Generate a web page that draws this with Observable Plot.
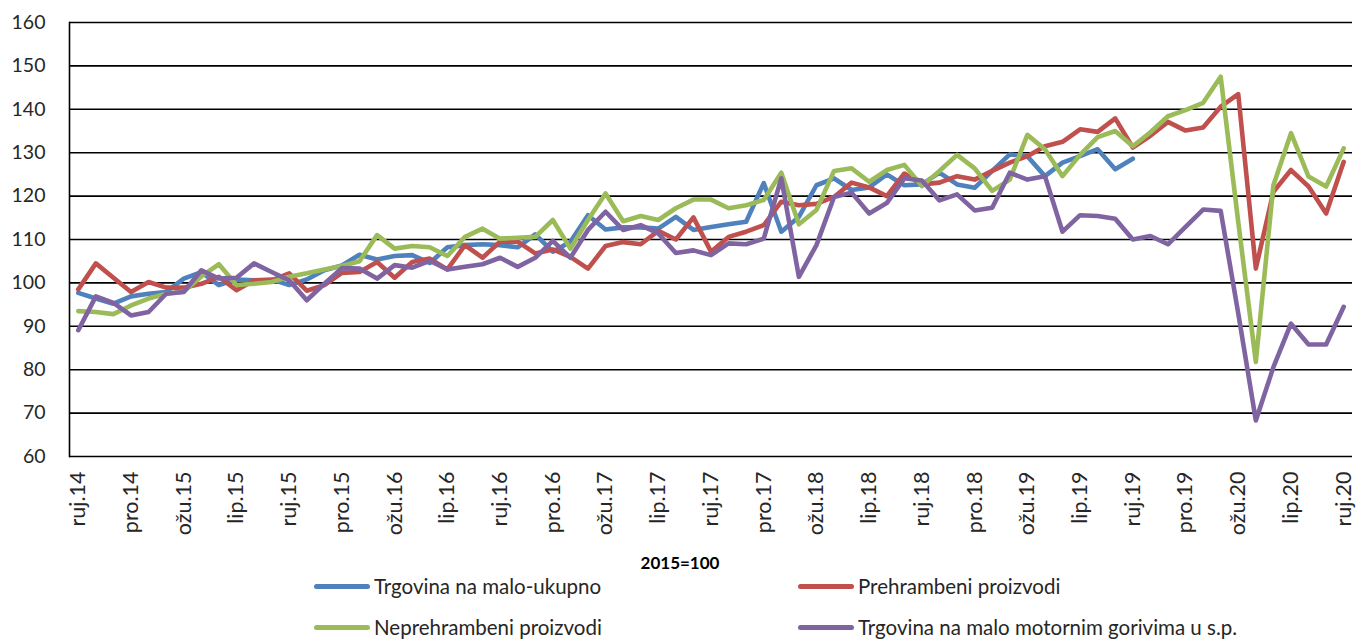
<!DOCTYPE html>
<html>
<head>
<meta charset="utf-8">
<script src="https://cdn.jsdelivr.net/npm/d3@7"></script>
<script src="https://cdn.jsdelivr.net/npm/@observablehq/plot@0.6"></script>
<style>
  html, body { margin: 0; padding: 0; background: #fff; }
  body { width: 1360px; height: 639px; overflow: hidden; font-family: Lato, "Open Sans", sans-serif; }
  #below { position: relative; width: 1360px; height: 91px; color: #222; }
  #title { position: absolute; left: 0; width: 1360px; top: 5px; text-align: center; font-weight: bold; font-size: 17px; line-height: 20px; color: #000; }
  .sw { position: absolute; width: 56px; height: 5px; border-radius: 3px; }
  .lt { position: absolute; font-size: 20.5px; line-height: 20px; color: #262626; white-space: nowrap; }
</style>
</head>
<body>
<div id="chart"></div>
<div id="below">
  <div id="title">2015=100</div>
</div>
<script>
// Month categories (Croatian abbreviations)
const months = [
  "ruj.14","lis.14","stu.14","pro.14",
  "sij.15","velj.15","ožu.15","tra.15","svi.15","lip.15","srp.15","kol.15","ruj.15","lis.15","stu.15","pro.15",
  "sij.16","velj.16","ožu.16","tra.16","svi.16","lip.16","srp.16","kol.16","ruj.16","lis.16","stu.16","pro.16",
  "sij.17","velj.17","ožu.17","tra.17","svi.17","lip.17","srp.17","kol.17","ruj.17","lis.17","stu.17","pro.17",
  "sij.18","velj.18","ožu.18","tra.18","svi.18","lip.18","srp.18","kol.18","ruj.18","lis.18","stu.18","pro.18",
  "sij.19","velj.19","ožu.19","tra.19","svi.19","lip.19","srp.19","kol.19","ruj.19","lis.19","stu.19","pro.19",
  "sij.20","velj.20","ožu.20","tra.20","svi.20","lip.20","srp.20","kol.20","ruj.20"
];
const tickLabels = ["ruj.14","pro.14","ožu.15","lip.15","ruj.15","pro.15","ožu.16","lip.16","ruj.16","pro.16",
  "ožu.17","lip.17","ruj.17","pro.17","ožu.18","lip.18","ruj.18","pro.18","ožu.19","lip.19","ruj.19","pro.19",
  "ožu.20","lip.20","ruj.20"];
const yTicks = [60,70,80,90,100,110,120,130,140,150,160];

const seriesNames = ["Trgovina na malo-ukupno","Prehrambeni proizvodi","Neprehrambeni proizvodi","Trgovina na malo motornim gorivima u s.p."];
const seriesColors = ["#4F81BD","#C0504D","#9BBB59","#8064A2"];

const ukupno = [97.7,96.4,95.2,96.9,97.5,97.9,101,102.5,99.5,100.8,
  100.6,100.8,99.5,100.8,102.9,104,106.5,105.4,106.2,106.4,
  104.6,108.2,108.7,108.9,108.7,108.2,111.2,107.2,109.5,115.6,
  112.3,112.8,112.8,112.5,115.2,112.2,112.9,113.5,114.1,123,
  111.8,115.2,122.5,124.1,121.4,122,125,122.5,122.7,125.4,
  122.7,121.9,125.8,129.6,129.2,124.6,127.7,129.2,130.8,126.2,128.6];
const prehrambeni = [98.5,104.5,101.2,97.9,100.2,98.9,98.9,99.8,101.4,98.3,
  100.6,100.6,102.2,98.2,99.5,102.3,102.5,104.8,101.2,104.8,
  105.6,103.1,108.7,105.8,109.5,109.5,106.8,107.7,106,103.3,
  108.5,109.4,108.9,112,110,115.1,107.2,110.6,111.8,113.3,
  118.7,117.9,118.2,119.8,123.1,122,120,125.2,122.7,123.1,
  124.6,123.8,125.8,127.7,129.2,131.5,132.5,135.4,134.8,137.9,
  131.2,133.9,137.1,135.1,135.8,140.6,143.5,103.3,121,126,
  122.2,116,127.9];
const neprehrambeni = [93.5,93.3,92.8,94.8,96.4,97.5,98,101.5,104.3,99.5,
  99.8,100.2,101.4,102.2,103.1,103.9,105,111,107.9,108.5,
  108.2,106.2,110.6,112.5,110.2,110.4,110.6,114.5,107.9,114.5,
  120.6,114.2,115.4,114.5,117.2,119.2,119.2,117.2,117.9,119.1,
  125.4,113.5,116.8,125.8,126.4,123.3,126,127.2,122.3,125.8,
  129.5,126.4,121.2,123.8,134.1,130.8,124.6,129.5,133.6,135,
  131.5,134.7,138.4,139.8,141.5,147.5,114,81.8,122.5,134.5,
  124.5,122.2,131];
const goriva = [89.1,96.9,95.4,92.5,93.3,97.5,97.9,102.9,101,101.2,
  104.5,102.5,100.6,96,99.8,103.4,103.3,101,104.1,103.5,
  105.1,103.1,103.7,104.3,105.8,103.7,105.8,109.7,105.8,112.2,
  116.4,112.2,113.3,111.4,106.9,107.5,106.4,109.1,108.9,110.2,
  124.1,101.4,108.7,119.8,120.8,116,118.4,124.1,123.6,119,
  120.4,116.7,117.3,125.4,123.8,124.6,111.8,115.6,115.4,114.8,
  110,110.8,108.9,112.9,116.9,116.6,93,68.3,80.6,90.6,
  85.8,85.8,94.5];

const allSeries = [ukupno, prehrambeni, neprehrambeni, goriva];
const rows = [];
allSeries.forEach((arr, s) => arr.forEach((v, i) => rows.push({series: seriesNames[s], month: months[i], value: v})));

const chart = Plot.plot({
  width: 1360,
  height: 548,
  marginLeft: 69,
  marginRight: 8,
  marginTop: 22,
  marginBottom: 92,
  style: {fontFamily: "Lato, 'Open Sans', sans-serif", fontSize: "19px", color: "#262626", background: "#fff"},
  x: {type: "point", domain: months, padding: 0.5, label: null},
  y: {domain: [60, 160], label: null},
  color: {domain: seriesNames, range: seriesColors},
  marks: [
    Plot.ruleY(yTicks, {stroke: "#000", strokeWidth: 1.6}),
    Plot.frame({anchor: "left", stroke: "#000", strokeWidth: 1.6}),
    Plot.axisY({ticks: yTicks, tickSize: 0, tickPadding: 24, label: null, fontSize: 19.5}),
    Plot.axisX({ticks: tickLabels, tickSize: 0, tickPadding: 15, tickRotate: -90, label: null, fontSize: 21.5}),
    Plot.line(rows, {x: "month", y: "value", z: "series", stroke: "series", strokeWidth: 4.6, strokeLinejoin: "round", strokeLinecap: "round"})
  ]
});
document.getElementById("chart").appendChild(chart);

// Legend below the chart
const below = document.getElementById("below");
const legendPos = [
  {sw: 314, tx: 374, top: 28},
  {sw: 798, tx: 858, top: 28},
  {sw: 314, tx: 374, top: 69},
  {sw: 798, tx: 858, top: 69}
];
[0, 1, 2, 3].forEach((s, k) => {
  const p = legendPos[k];
  const sw = document.createElement("div");
  sw.className = "sw";
  sw.style.left = p.sw + "px";
  sw.style.top = (p.top + 8) + "px";
  sw.style.background = seriesColors[s];
  below.appendChild(sw);
  const t = document.createElement("div");
  t.className = "lt";
  t.style.left = p.tx + "px";
  t.style.top = p.top + "px";
  t.textContent = seriesNames[s];
  below.appendChild(t);
});
</script>
</body>
</html>
